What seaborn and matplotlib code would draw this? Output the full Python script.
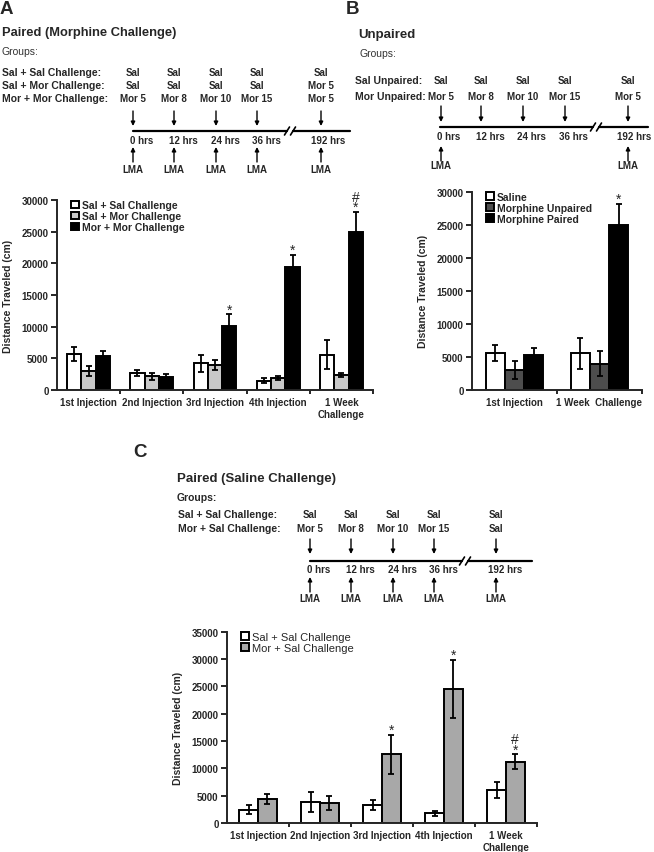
import numpy as np
import pandas as pd
import matplotlib
matplotlib.use("Agg")
import matplotlib.pyplot as plt
import seaborn as sns

# ==========================
# Data
# ==========================
phases = ["1st Injection", "2nd Injection", "3rd Injection", "4th Injection", "1 Week\nChallenge"]
hours = ["0 hrs", "12 hrs", "24 hrs", "36 hrs", "192 hrs"]

# Panel A - paired, morphine challenge
a_title = "Paired (Morphine Challenge)"
a_series = ["Sal + Sal Challenge", "Sal + Mor Challenge", "Mor + Mor Challenge"]
a_schedule = [["Sal", "Sal", "Sal", "Sal", "Sal"],
              ["Sal", "Sal", "Sal", "Sal", "Mor 5"],
              ["Mor 5", "Mor 8", "Mor 10", "Mor 15", "Mor 5"]]
a_lma = [True, True, True, True, True]
a_sal_sal = [5700, 2700, 4200, 1500, 5600]
a_sal_sal_err = [1100, 450, 1350, 450, 2250]
a_sal_mor = [3000, 2150, 3900, 1900, 2400]
a_sal_mor_err = [800, 500, 800, 350, 350]
a_mor_mor = [5300, 2000, 10100, 19500, 25000]
a_mor_mor_err = [800, 450, 1850, 1850, 3100]
a_marks = [(2, 2, "*"), (3, 2, "*"), (4, 2, "#\n*")]

# Panel B - unpaired
b_title = "Unpaired"
b_phases = ["1st Injection", "1 Week  Challenge"]
b_series = ["Saline", "Morphine Unpaired", "Morphine Paired"]
b_schedule = [["Sal", "Sal", "Sal", "Sal", "Sal"],
              ["Mor 5", "Mor 8", "Mor 10", "Mor 15", "Mor 5"]]
b_groups = ["Sal Unpaired:", "Mor Unpaired:"]
b_lma = [True, False, False, False, True]
b_saline = [5650, 5550]
b_saline_err = [1200, 2350]
b_unpaired = [3000, 4000]
b_unpaired_err = [1400, 1900]
b_paired = [5350, 25000]
b_paired_err = [950, 3200]
b_marks = [(1, 2, "*")]

# Panel C - paired, saline challenge
c_title = "Paired (Saline Challenge)"
c_series = ["Sal + Sal Challenge", "Mor + Sal Challenge"]
c_schedule = [["Sal", "Sal", "Sal", "Sal", "Sal"],
              ["Mor 5", "Mor 8", "Mor 10", "Mor 15", "Sal"]]
c_lma = [True, True, True, True, True]
c_sal_sal = [2450, 3800, 3300, 1750, 6050]
c_sal_sal_err = [850, 1850, 900, 450, 1400]
c_mor_sal = [4400, 3650, 12550, 24500, 11200]
c_mor_sal_err = [900, 1350, 3550, 5300, 1350]
c_marks = [(2, 1, "*"), (3, 1, "*"), (4, 1, "#\n*")]

# ==========================
# Style
# ==========================
sns.set_style("ticks")
plt.rcParams["font.family"] = ["Liberation Sans", "DejaVu Sans"]

W, H = 654, 853
fig = plt.figure(figsize=(W / 100, H / 100), dpi=100)

# overlay in pixel coordinates for the schematics
bg = fig.add_axes([0, 0, 1, 1])
bg.set_xlim(0, W)
bg.set_ylim(H, 0)
bg.axis("off")

TXT = 7


def arrow(x, y0, y1):
    bg.annotate("", xy=(x, y1), xytext=(x, y0),
                arrowprops=dict(arrowstyle="-|>", color="black", lw=1.0,
                                mutation_scale=6, shrinkA=0, shrinkB=0))


def timeline(cols, hrs_x, rows_y, down_y, line_y, line_x, brk, hrs_y, up_y, lma_y,
             schedule, lma):
    for r, row in enumerate(schedule):
        for x, t in zip(cols, row):
            bg.text(x, rows_y[r], t, ha="center", va="center", fontsize=TXT, weight="bold")
    for x in cols:
        arrow(x, down_y[0], down_y[1])
    bg.plot([line_x[0], brk - 3], [line_y, line_y], color="black", lw=1.6)
    bg.plot([brk + 3, line_x[1]], [line_y, line_y], color="black", lw=1.6)
    for dx in (-3, 3):
        bg.plot([brk + dx - 2.5, brk + dx + 2.5], [line_y + 4, line_y - 4], color="black", lw=1.2)
    for x, t in zip(hrs_x, hours):
        bg.text(x, hrs_y, t, ha="left", va="center", fontsize=TXT, weight="bold")
    for x, has in zip(cols, lma):
        if has:
            arrow(x, up_y[0], up_y[1])
            bg.text(x, lma_y, "LMA", ha="center", va="center", fontsize=TXT, weight="bold")


def bars(rect, labels, series, values, errors, colors, ymax, width, marks,
         leg_anchor, leg_bold, leg_size):
    ax = fig.add_axes(rect)
    rows = []
    for s, vals in zip(series, values):
        for p, v in zip(labels, vals):
            rows.append({"phase": p, "group": s, "dist": v})
    df = pd.DataFrame(rows)
    sns.barplot(data=df, x="phase", y="dist", hue="group", order=labels, hue_order=series,
                palette=colors, saturation=1, edgecolor="black", linewidth=1.4,
                width=width, errorbar=None, ax=ax)
    conts = list(ax.containers)
    for cont, errs in zip(conts, errors):
        xs = [b.get_x() + b.get_width() / 2 for b in cont]
        hs = [b.get_height() for b in cont]
        ax.errorbar(xs, hs, yerr=errs, fmt="none", ecolor="black", elinewidth=1.3,
                    capsize=2.5, capthick=1.3, zorder=5)
    # significance marks above the error bars
    for pi, si, m in marks:
        b = conts[si][pi]
        top = b.get_height() + errors[si][pi]
        ax.annotate(m, (b.get_x() + b.get_width() / 2, top), xytext=(0, -1.5),
                    textcoords="offset points", ha="center", va="bottom",
                    fontsize=10, linespacing=0.68)
    n = len(labels)
    ax.set_xlim(-0.5, n - 0.5)
    ax.set_ylim(0, ymax)
    ax.set_yticks(range(0, ymax + 1, 5000))
    ax.set_xticks(np.arange(0.5, n, 1), minor=True)
    sns.despine(ax=ax)
    for sp in ("left", "bottom"):
        ax.spines[sp].set_linewidth(1.4)
    ax.tick_params(axis="y", length=4, width=1.4, labelsize=7, pad=2)
    ax.tick_params(axis="x", which="major", length=0, labelsize=7, pad=5)
    ax.tick_params(axis="x", which="minor", length=3, width=1.4)
    for lbl in ax.get_xticklabels() + ax.get_yticklabels():
        lbl.set_fontweight("bold")
    ax.set_xlabel("")
    ax.set_ylabel("Distance Traveled (cm)", fontsize=7.5, fontweight="bold", labelpad=6)
    h, l = ax.get_legend_handles_labels()
    ax.legend(h, l, loc="upper left", bbox_to_anchor=leg_anchor, frameon=False,
              handlelength=0.7, handleheight=0.7, handletextpad=0.3, labelspacing=0.1,
              borderaxespad=0, borderpad=0,
              prop=dict(size=leg_size, weight="bold" if leg_bold else "normal"))
    return ax


# ==========================
# Panel A
# ==========================
fig.text(0 / W, 1 - 10 / H, "A", fontsize=13.5, weight="bold", va="center")
bg.text(2, 33, a_title, fontsize=9.3, weight="bold", va="center")
bg.text(2, 52, "Groups:", fontsize=7.5, color="#333333", va="center")
for y, g in zip([73, 86, 99], a_series):
    bg.text(2, y, g + ":", fontsize=7.5, weight="bold", va="center")
timeline([133, 174, 216, 257, 321], [130, 169, 211, 252, 311], [73, 86, 99], (112, 127), 132,
         (133, 350), 290, 141, (163, 148), 170, a_schedule, a_lma)

bars([57 / W, 1 - 391 / H, 316 / W, 190 / H], phases, a_series,
     [a_sal_sal, a_sal_mor, a_mor_mor], [a_sal_sal_err, a_sal_mor_err, a_mor_mor_err],
     ["white", "#c8c8c8", "black"], 30000, 0.68, a_marks, (0.045, 1.0), True, 7.5)

# ==========================
# Panel B
# ==========================
fig.text(346 / W, 1 - 10 / H, "B", fontsize=13.5, weight="bold", va="center")
bg.text(358, 35, b_title, fontsize=9.5, weight="bold", va="center")
bg.text(360, 54, "Groups:", fontsize=7.5, color="#333333", va="center")
for y, g in zip([81, 97], b_groups):
    bg.text(355, y, g, fontsize=7.5, weight="bold", va="center")
timeline([441, 481, 523, 565, 628], [437, 476, 517, 559, 617], [81, 97], (107, 123), 128,
         (440, 648), 596, 137, (162, 147), 166, b_schedule, b_lma)

bars([472 / W, 1 - 391 / H, 170 / W, 198.3 / H], b_phases, b_series,
     [b_saline, b_unpaired, b_paired], [b_saline_err, b_unpaired_err, b_paired_err],
     ["white", "#4d4d4d", "black"], 30000, 0.68, b_marks, (0.085, 1.0), True, 7.5)

# ==========================
# Panel C
# ==========================
fig.text(133 / W, 1 - 453 / H, "C", fontsize=13.5, weight="bold", va="center")
bg.text(177, 479, c_title, fontsize=9.5, weight="bold", va="center")
bg.text(177, 498, "Groups:", fontsize=7.5, weight="bold", va="center")
for y, g in zip([515, 529], c_series):
    bg.text(178, y, g + ":", fontsize=7.5, weight="bold", va="center")
timeline([310, 351, 393, 434, 496], [307, 346, 388, 429, 488], [515, 529], (540, 555), 562,
         (310, 532), 465, 570, (593, 578), 599, c_schedule, c_lma)

bars([227 / W, 1 - 824 / H, 310 / W, 191.3 / H], phases, c_series,
     [c_sal_sal, c_mor_sal], [c_sal_sal_err, c_mor_sal_err],
     ["white", "#a8a8a8"], 35000, 0.6, c_marks, (0.045, 1.0), False, 8)

fig.savefig("out.png", dpi=100)
